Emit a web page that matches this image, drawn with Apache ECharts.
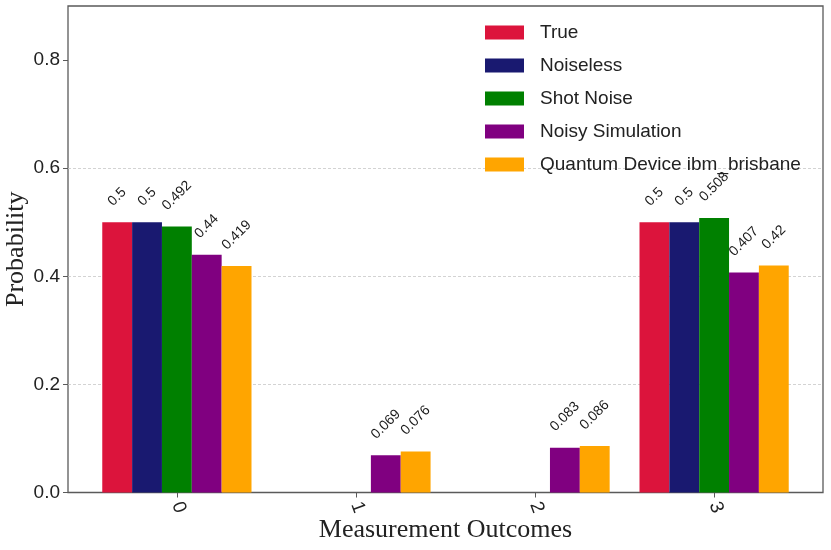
<!DOCTYPE html>
<html><head><meta charset="utf-8">
<script src="https://cdn.jsdelivr.net/npm/echarts@6/dist/echarts.min.js"></script>
<style>html,body{margin:0;padding:0;background:#fff}#c{width:831px;height:550px}</style>
</head><body><div id="c"></div>
<script>
// ---- data ----
const categories = [0, 1, 2, 3];
const seriesNames = ['True', 'Noiseless', 'Shot Noise', 'Noisy Simulation', 'Quantum Device ibm_brisbane'];
const trueVals = [0.5, 0, 0, 0.5];
const noiselessVals = [0.5, 0, 0, 0.5];
const shotNoiseVals = [0.492, 0, 0, 0.508];
const noisySimVals = [0.44, 0.069, 0.083, 0.407];
const deviceVals = [0.419, 0.076, 0.086, 0.42];
const yTicks = [0, 0.2, 0.4, 0.6, 0.8];
const xTicks = [0, 1, 2, 3];

// ---- styling / layout ----
const colors = ['#DC143C', '#191970', '#008000', '#800080', '#FFA500'];
const allVals = [trueVals, noiselessVals, shotNoiseVals, noisySimVals, deviceVals];
const grid = {left: 68, right: 8, top: 6, bottom: 57.5};
const xMin = -0.608, xMax = 3.608;
const plotW = 831 - grid.left - grid.right;
const unit = plotW / (xMax - xMin);
const nS = seriesNames.length;
const barW = 1 / (nS + 1);
const labelFont = '14px "Liberation Sans", Arial, sans-serif';
const cv = document.createElement('canvas').getContext('2d');
cv.font = labelFont;
function labelDist(txt) {
  const w = cv.measureText(txt).width;
  return 15 + (w + 10) * Math.SQRT1_2 / 2;
}

const series = seriesNames.map((name, si) => {
  const off = (si - (nS - 1) / 2) * barW;
  return {
    name: name,
    type: 'bar',
    barWidth: unit * barW,
    barGap: '-100%',
    itemStyle: {color: colors[si]},
    data: categories.map((c, ci) => {
      const v = allVals[si][ci];
      const txt = String(v);
      return {
        value: [c + off, v],
        label: {show: v > 0, distance: labelDist(txt)}
      };
    }),
    label: {
      position: 'top', rotate: 45, align: 'center', verticalAlign: 'middle',
      fontSize: 14, fontFamily: '"Liberation Sans", Arial, sans-serif', color: '#1a1a1a',
      formatter: p => String(p.value[1])
    }
  };
});

const chart = echarts.init(document.getElementById('c'), null, {renderer: 'canvas'});
chart.setOption({
  animation: false,
  backgroundColor: '#fff',
  grid: Object.assign({show: true, borderColor: '#5a5a5a', borderWidth: 1.3, backgroundColor: 'transparent',
    containLabel: false, outerBoundsMode: 'none'}, grid),
  legend: {
    orient: 'vertical', left: 485, top: 23, padding: 0,
    itemWidth: 39, itemHeight: 14, itemGap: 14, icon: 'rect',
    textStyle: {fontSize: 19, fontFamily: '"Liberation Sans", Arial, sans-serif', color: '#222', lineHeight: 14, padding: [0, 0, 0, 11]},
    data: seriesNames
  },
  xAxis: {
    type: 'value', min: xMin, max: xMax,
    axisLine: {show: false, onZero: false},
    splitLine: {show: false},
    axisTick: {show: true, length: 5, customValues: xTicks, lineStyle: {color: '#5a5a5a', width: 1}},
    axisLabel: {customValues: xTicks, rotate: -70, margin: 10, fontSize: 19,
      fontFamily: '"Liberation Sans", Arial, sans-serif', color: '#222'},
    name: 'Measurement Outcomes', nameLocation: 'middle', nameGap: 25, nameMoveOverlap: false,
    nameTextStyle: {fontFamily: '"Liberation Serif", "Times New Roman", serif', fontSize: 26, color: '#222'}
  },
  yAxis: {
    type: 'value', min: 0, max: 0.9, interval: 0.2,
    axisLine: {show: false, onZero: false},
    splitLine: {show: true, showMinLine: false, showMaxLine: false,
      lineStyle: {color: '#c8c8c8', width: 0.8, type: [3, 2]}},
    axisTick: {show: true, length: 5, customValues: yTicks, lineStyle: {color: '#5a5a5a', width: 1}},
    axisLabel: {customValues: yTicks, margin: 8, fontSize: 19, formatter: v => v.toFixed(1),
      fontFamily: '"Liberation Sans", Arial, sans-serif', color: '#222'},
    name: 'Probability', nameLocation: 'middle', nameGap: 39, nameMoveOverlap: false,
    nameTextStyle: {fontFamily: '"Liberation Serif", "Times New Roman", serif', fontSize: 26, color: '#222'}
  },
  series: series
});
</script></body></html>
